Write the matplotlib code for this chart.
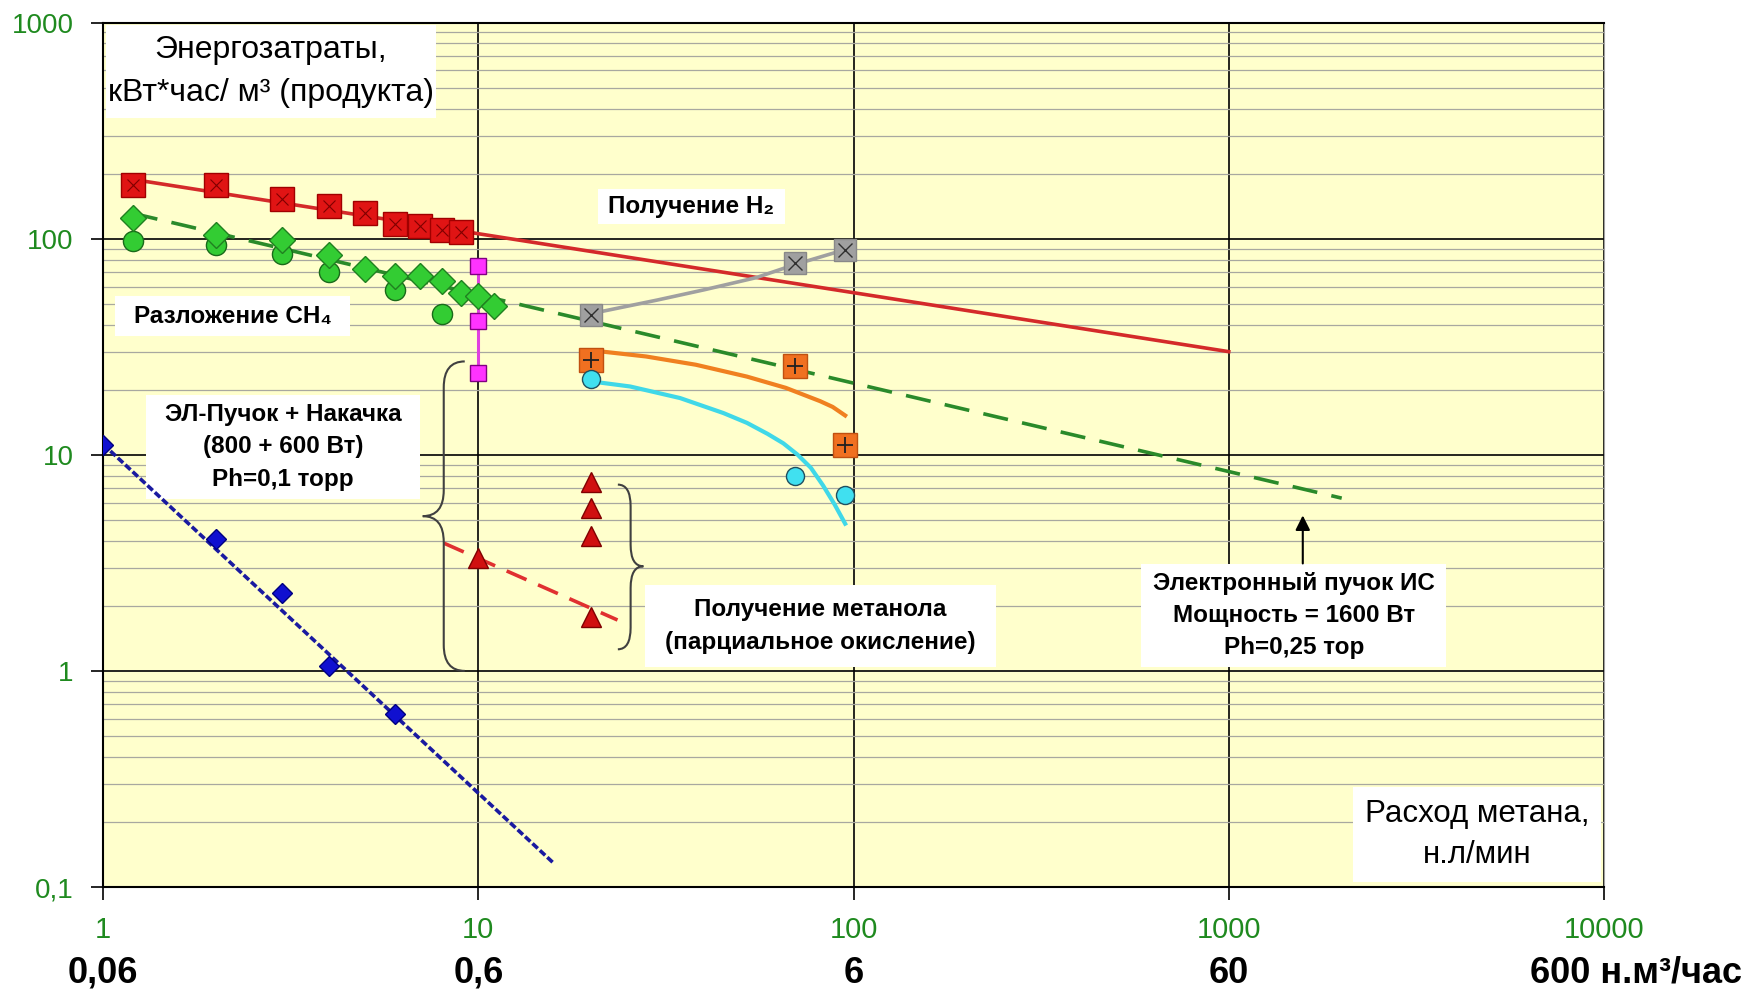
import matplotlib.pyplot as plt
from matplotlib.path import Path
from matplotlib.patches import PathPatch, Rectangle
from matplotlib.ticker import FixedLocator, NullLocator

plt.rcParams['font.family'] = ['Liberation Sans', 'DejaVu Sans']

# получение H2
h2_x = [1.2, 2, 3, 4, 5, 6, 7, 8, 9]
h2_y = [177, 177, 152, 141, 131, 117, 115, 110, 107]
h2_fit_x = [1.2, 1000]
h2_fit_y = [188, 30]

# разложение CH4
ch4_d_x = [1.2, 2, 3, 4, 5, 6, 7, 8, 9, 10, 11]
ch4_d_y = [125, 104, 99, 84, 72, 67, 67, 64, 56, 54, 49]
ch4_c_x = [1.2, 2, 3, 4, 6, 8]
ch4_c_y = [98, 93, 85, 70, 58, 45]
ch4_fit_x = [1.2, 2000]
ch4_fit_y = [131, 6.3]

# ЭЛ-пучок + накачка
pump_x = [10, 10, 10]
pump_y = [75, 41.8, 24]

gray_x = [20, 70, 95]
gray_y = [44.4, 77.5, 88.7]
gray_fit_x = [20, 30, 40, 55, 70, 95]
gray_fit_y = [45, 52, 58, 66, 76, 89]

orange_x = [20, 70, 95]
orange_y = [27.5, 25.8, 11.1]
orange_fit_x = [21.5, 28, 38, 52, 66, 81.5, 88, 95]
orange_fit_y = [30, 28.5, 26.1, 23, 20.4, 17.7, 16.65, 15.2]

cyan_x = [20, 70, 95]
cyan_y = [22.4, 8.0, 6.5]
cyan_fit_x = [20.2, 25.4, 34.5, 45, 52, 59, 65, 71, 77, 83, 89, 95]
cyan_fit_y = [21.8, 20.7, 18.3, 15.6, 14.05, 12.5, 11.3, 10.0, 8.7, 7.2, 5.9, 4.8]

# метанол
meoh_x = [20, 20, 20, 20, 10]
meoh_y = [7.5, 5.7, 4.2, 1.77, 3.34]
meoh_fit_x = [8.1, 23.5]
meoh_fit_y = [3.9, 1.72]

# ЭЛ-пучок + накачка, синие ромбы
blue_x = [1, 2, 3, 4, 6]
blue_y = [11.1, 4.06, 2.29, 1.05, 0.63]
blue_fit_x = [1, 15.8]
blue_fit_y = [11.2, 0.13]

x_ticks = [1, 10, 100, 1000, 10000]
x_ticklabels = ['1', '10', '100', '1000', '10000']
x_m3 = ['0,06', '0,6', '6', '60']
y_ticks = [0.1, 1, 10, 100, 1000]
y_ticklabels = ['0,1', '1', '10', '100', '1000']

green = '#1f8a1f'

fig = plt.figure(figsize=(17.58, 9.97), dpi=100)
ax = fig.add_axes([0.0586, 0.1103, 0.8538, 0.8671])
ax.set_facecolor('#ffffcc')
ax.set_xscale('log')
ax.set_yscale('log')
ax.set_xlim(1, 10000)
ax.set_ylim(0.1, 1000)

ax.xaxis.set_major_locator(FixedLocator(x_ticks))
ax.xaxis.set_minor_locator(NullLocator())
ax.set_xticklabels(x_ticklabels)
ax.yaxis.set_major_locator(FixedLocator(y_ticks))
ax.yaxis.set_minor_locator(FixedLocator([m * 10.0 ** e for e in range(-1, 3) for m in range(2, 10)]))
ax.set_yticklabels(y_ticklabels)
ax.tick_params(axis='both', which='major', length=9, width=1.2, colors='black',
               labelcolor=green, labelsize=20, pad=12)
ax.tick_params(axis='x', which='major', labelsize=21)
ax.tick_params(axis='y', which='minor', length=0)

ax.set_axisbelow(True)
ax.grid(True, which='major', color='black', lw=1.2)
ax.yaxis.grid(True, which='minor', color='#a8a8a0', lw=0.9)
for s in ['left', 'bottom', 'top']:
    ax.spines[s].set_linewidth(1.5)
ax.spines['right'].set_color('#a0a0a0')
ax.spines['right'].set_linewidth(0.8)

# подписи в белых рамках
boxes = [
    ((0.002, 0.8895, 0.220, 0.1075), 'Энергозатраты,\nкВт*час/ м³ (продукта)', 23, 'normal', 1.6),
    ((0.3295, 0.7667, 0.125, 0.0413), 'Получение H₂', 17.5, 'bold', 1.2),
    ((0.0083, 0.637, 0.156, 0.0466), 'Разложение CH₄', 17.5, 'bold', 1.2),
    ((0.0285, 0.4488, 0.183, 0.1207), 'ЭЛ-Пучок + Накачка\n(800 + 600 Вт)\nPh=0,1 торр', 17.5, 'bold', 1.52),
    ((0.3609, 0.2544, 0.2338, 0.0946), 'Получение метанола\n(парциальное окисление)', 17.5, 'bold', 1.58),
    ((0.6918, 0.2544, 0.2031, 0.1192), 'Электронный пучок ИС\nМощность = 1600 Вт\nPh=0,25 тор', 17.5, 'bold', 1.52),
    ((0.833, 0.0053, 0.165, 0.1104), 'Расход метана,\nн.л/мин', 22.5, 'normal', 1.5),
]
for (bx, by, bw, bh), txt, fs, fw, lsp in boxes:
    ax.add_patch(Rectangle((bx, by), bw, bh, transform=ax.transAxes,
                           facecolor='white', edgecolor='none', zorder=2))
    ax.text(bx + bw / 2, by + bh / 2, txt, transform=ax.transAxes, ha='center', va='center',
            fontsize=fs, fontweight=fw, linespacing=lsp, zorder=6)

# линии трендов
ax.plot(h2_fit_x, h2_fit_y, color='#d42a2a', lw=2.6, zorder=3)
ax.plot(ch4_fit_x, ch4_fit_y, color='#2a8a2a', lw=2.6, ls=(0, (7, 4)), zorder=3)
ax.plot(gray_fit_x, gray_fit_y, color='#a0a0a0', lw=2.6, zorder=3)
ax.plot(orange_fit_x, orange_fit_y, color='#f08020', lw=3, zorder=3)
ax.plot(cyan_fit_x, cyan_fit_y, color='#40d8e8', lw=3, zorder=3)
ax.plot(meoh_fit_x, meoh_fit_y, color='#e03030', lw=2.6, ls=(0, (6, 3.5)), zorder=3)
ax.plot(blue_fit_x, blue_fit_y, color='#1a1aa0', lw=2.6, ls=(0, (2, 0.8)), zorder=3)
ax.plot(pump_x, pump_y, color='#e040e0', lw=2.2, zorder=3)

# точки
ax.plot(h2_x, h2_y, ls='none', marker='s', ms=17, mfc='#e01414', mec='#a00000', mew=1, zorder=4)
ax.plot(h2_x, h2_y, ls='none', marker='x', ms=8, mec='#800000', mew=0.8, zorder=5)
ax.plot(ch4_c_x, ch4_c_y, ls='none', marker='o', ms=14.5, mfc='#33cc33', mec='#1a6b1a', mew=1, zorder=4)
ax.plot(ch4_d_x, ch4_d_y, ls='none', marker='D', ms=13.5, mfc='#33cc33', mec='#208020', mew=1, zorder=4)
ax.plot(pump_x, pump_y, ls='none', marker='s', ms=11, mfc='#ff33ff', mec='#800080', mew=1, zorder=4)
ax.plot(gray_x, gray_y, ls='none', marker='s', ms=16, mfc='#a0a0a0', mec='#888888', mew=1, zorder=4)
ax.plot(gray_x, gray_y, ls='none', marker='x', ms=10, mec='#303030', mew=1, zorder=5)
ax.plot(orange_x, orange_y, ls='none', marker='s', ms=17, mfc='#f07020', mec='#c05010', mew=1, zorder=4)
ax.plot(orange_x, orange_y, ls='none', marker='+', ms=12, mec='#202020', mew=1.3, zorder=5)
ax.plot(cyan_x, cyan_y, ls='none', marker='o', ms=13, mfc='#40e0f0', mec='#205060', mew=1, zorder=4)
ax.plot(meoh_x, meoh_y, ls='none', marker='^', ms=14, mfc='#d01010', mec='#800000', mew=1, zorder=4)
ax.plot(blue_x, blue_y, ls='none', marker='D', ms=10, mfc='#1010d0', mec='#000080', mew=1, zorder=4)


def brace(x_end, x_tip, y0, y1, y_mid, r=0.03):
    xs = (x_end + x_tip) / 2
    verts = [(x_end, y1), (xs, y1), (xs, y1 - r),
             (xs, y_mid + r),
             (xs, y_mid), (x_tip, y_mid),
             (xs, y_mid), (xs, y_mid - r),
             (xs, y0 + r),
             (xs, y0), (x_end, y0)]
    codes = [Path.MOVETO, Path.CURVE3, Path.CURVE3,
             Path.LINETO,
             Path.CURVE3, Path.CURVE3,
             Path.CURVE3, Path.CURVE3,
             Path.LINETO,
             Path.CURVE3, Path.CURVE3]
    ax.add_patch(PathPatch(Path(verts, codes), transform=ax.transAxes, fill=False,
                           edgecolor='#404040', lw=1.5, zorder=3))


brace(0.241, 0.213, 0.25, 0.608, 0.429)
brace(0.343, 0.360, 0.275, 0.4655, 0.371, r=0.025)

ax.annotate('', xy=(1575, 5.4), xytext=(1575, 3.05),
            arrowprops=dict(arrowstyle='-|>', color='black', lw=1.5, mutation_scale=22))

# второй ряд подписей оси X
for xv, lab in zip(x_ticks, x_m3):
    ax.text(xv, -0.0995, lab, transform=ax.get_xaxis_transform(), ha='center', va='center',
            fontsize=26, fontweight='bold')
ax.text(6340, -0.0995, '600 н.м³/час', transform=ax.get_xaxis_transform(), ha='left', va='center',
        fontsize=26, fontweight='bold')

fig.savefig('out.png', dpi=100)
